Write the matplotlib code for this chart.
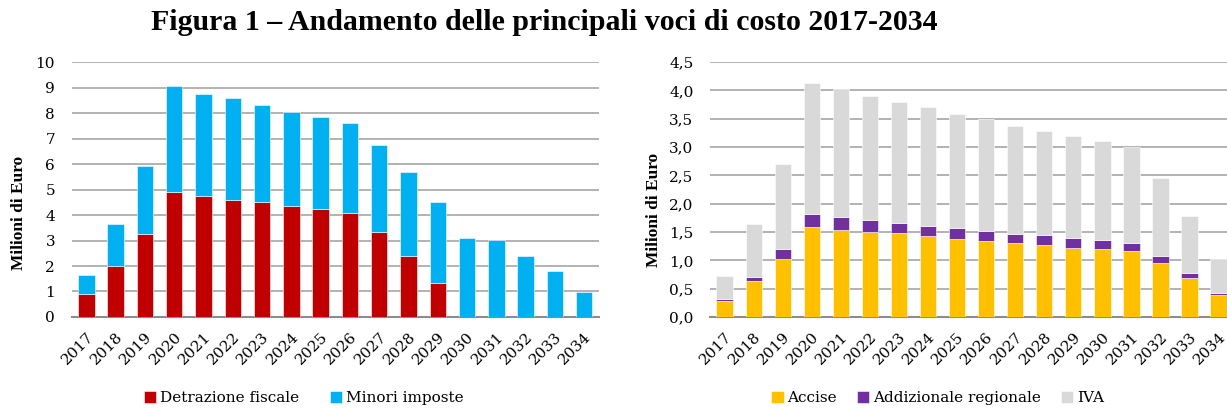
import numpy as np
import matplotlib.pyplot as plt
from matplotlib.ticker import FuncFormatter

plt.rcParams['font.family'] = ['DejaVu Serif']

years = [str(y) for y in range(2017, 2035)]

# left chart: total = detrazione + minori imposte
detrazione = [0.91, 2.00, 3.27, 4.92, 4.76, 4.60, 4.51, 4.37, 4.24, 4.09,
              3.32, 2.40, 1.32, 0, 0, 0, 0, 0]
totale_sx = [1.64, 3.65, 5.93, 9.05, 8.77, 8.58, 8.32, 8.06, 7.85, 7.60,
             6.73, 5.70, 4.52, 3.08, 3.02, 2.40, 1.80, 0.98]
minori = [t - d for t, d in zip(totale_sx, detrazione)]

# right chart
accise = [0.28, 0.63, 1.03, 1.59, 1.54, 1.50, 1.48, 1.43, 1.385, 1.34,
          1.31, 1.27, 1.22, 1.20, 1.16, 0.95, 0.69, 0.38]
acc_add = [0.32, 0.71, 1.20, 1.82, 1.77, 1.71, 1.66, 1.61, 1.57, 1.52,
           1.47, 1.45, 1.40, 1.36, 1.31, 1.08, 0.78, 0.43]
totale_dx = [0.73, 1.64, 2.71, 4.14, 4.02, 3.91, 3.79, 3.70, 3.58, 3.49,
             3.37, 3.28, 3.19, 3.10, 3.01, 2.45, 1.78, 1.02]
addizionale = [a - b for a, b in zip(acc_add, accise)]
iva = [t - a for t, a in zip(totale_dx, acc_add)]

RED, BLUE = '#C00000', '#00B0F0'
YEL, PUR, GRY = '#FFC000', '#7030A0', '#D9D9D9'

fig = plt.figure(figsize=(12.27, 4.09), dpi=100)
ax1 = fig.add_axes([0.0585, 0.225, 0.4295, 0.623])
ax2 = fig.add_axes([0.5787, 0.225, 0.4263, 0.623])

x = np.arange(len(years))
w = 0.56

ax1.bar(x, detrazione, w, color=RED, label='Detrazione fiscale', zorder=3,
        edgecolor='white', linewidth=0.4)
ax1.bar(x, minori, w, bottom=detrazione, color=BLUE, label='Minori imposte',
        zorder=3, edgecolor='white', linewidth=0.4)
ax1.set_ylim(0, 10)
ax1.set_yticks(range(0, 11))

ax2.bar(x, accise, w, color=YEL, label='Accise', zorder=3,
        edgecolor='white', linewidth=0.4)
ax2.bar(x, addizionale, w, bottom=accise, color=PUR,
        label='Addizionale regionale', zorder=3, edgecolor='white', linewidth=0.4)
ax2.bar(x, iva, w, bottom=acc_add, color=GRY, label='IVA', zorder=3,
        edgecolor='white', linewidth=0.4)
ax2.set_ylim(0, 4.5)
ax2.set_yticks(np.arange(0, 4.51, 0.5))
ax2.yaxis.set_major_formatter(FuncFormatter(lambda v, p: f'{v:.1f}'.replace('.', ',')))

for ax in (ax1, ax2):
    ax.set_xlim(-0.5, len(years) - 0.5)
    ax.set_xticks(x)
    ax.set_xticklabels(years, rotation=45, ha='right', rotation_mode='anchor',
                       fontsize=11)
    ax.tick_params(axis='y', labelsize=11, length=0, pad=12)
    ax.tick_params(axis='x', length=0, pad=9)
    ax.grid(axis='y', color='#A6A6A6', linewidth=1.2, zorder=0)
    for s in ('top', 'right', 'left'):
        ax.spines[s].set_visible(False)
    ax.spines['bottom'].set_color('#8C8C8C')
    ax.spines['bottom'].set_linewidth(1.5)
    ax.set_ylabel('Milioni di Euro', fontsize=12.5, fontweight='bold',
                  family='Liberation Serif')

ax1.yaxis.set_label_coords(-0.085, 0.41)
ax2.yaxis.set_label_coords(-0.092, 0.42)

leg_kw = dict(loc='upper center', frameon=False, fontsize=11, handlelength=0.8,
              handleheight=0.8, handletextpad=0.25, borderpad=0)
ax1.legend(bbox_to_anchor=(0.44, -0.26), ncol=2, columnspacing=2.0, **leg_kw)
ax2.legend(bbox_to_anchor=(0.435, -0.26), ncol=3, columnspacing=1.3, **leg_kw)

fig.text(0.4434, 0.945, 'Figura 1 \u2013 Andamento delle principali voci di costo 2017-2034',
         ha='center', va='center', fontsize=21.5, fontweight='bold',
         family='Liberation Serif')

fig.savefig('out.png', dpi=100)
